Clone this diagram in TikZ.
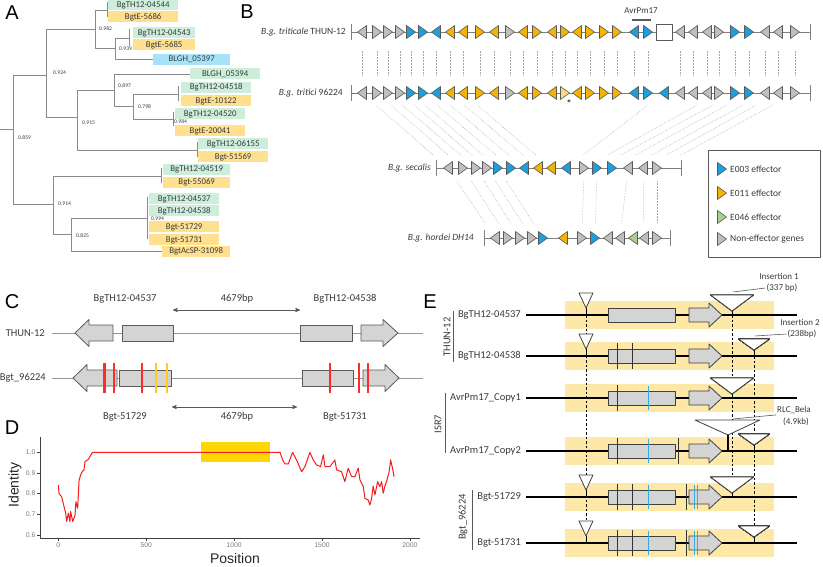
\documentclass[tikz,border=0pt]{standalone}
\usepackage{fontspec}
\setmainfont{Carlito}
\newfontfamily\arialfont{Liberation Sans}
\usetikzlibrary{arrows,calc}

\definecolor{lfgreen}{HTML}{CCEEDB}
\definecolor{lforange}{HTML}{FFE08E}
\definecolor{lfblue}{HTML}{A6E3F8}
\definecolor{brgray}{HTML}{8A8A8A}
\definecolor{rowgray}{HTML}{7F7F7F}
\definecolor{dkgray}{HTML}{595959}
\definecolor{txtgray}{HTML}{3A3A3A}
\definecolor{non}{HTML}{BFBFBF}
\definecolor{e3}{HTML}{1AA0DE}
\definecolor{e11}{HTML}{F4B400}
\definecolor{e11l}{HTML}{FBDA80}
\definecolor{e46}{HTML}{A9D08E}
\definecolor{bandcol}{HTML}{FDE8A7}
\definecolor{genefill}{HTML}{D4D4D4}
\definecolor{snpred}{HTML}{FF2A2A}
\definecolor{snpyel}{HTML}{FFC926}
\definecolor{snpblue}{HTML}{33ACE0}
\definecolor{idred}{HTML}{F21C1C}
\definecolor{idgold}{HTML}{FFD700}
\definecolor{tickgray}{HTML}{7A7A7A}

% gene triangle: name, x, y, direction (1 right, -1 left), colour
\newcommand\bgene[5]{\coordinate (#1) at (#2,#3);
  \filldraw[genetri,fill=#5,shift={(#1)}] ({-4.5*(#4)},-6.5) -- ({4.5*(#4)},0) -- ({-4.5*(#4)},6.5) -- cycle;}
% insertion: x, row y, half width, top, apex
\newcommand\ins[5]{\draw[insline] (#1,#2) -- (#1,{#2-#5});
  \filldraw[instri] ({#1-#3},{#2-#4}) -- ({#1+#3},{#2-#4}) -- (#1,{#2-#5}) -- cycle;}

\begin{document}
\begin{tikzpicture}[x=1pt,y=-1pt,>=stealth',line join=round,
  leaf/.style={anchor=west,inner xsep=4pt,inner ysep=0pt,minimum height=11pt,text width=#1,align=center,
               font=\fontsize{8.8}{10}\selectfont,text=txtgray},
  leaf/.default=62pt]
\tikzstyle{every node}=[inner sep=1pt]
\tikzstyle{letter}=[font=\arialfont\fontsize{20}{22}\selectfont]
\tikzstyle{branch}=[brgray,line width=0.9pt]
\tikzstyle{boot}=[anchor=west,font=\fontsize{5.6}{6}\selectfont,inner sep=0pt,text=txtgray]
\tikzstyle{sp}=[anchor=east,font=\fontsize{9.5}{11}\selectfont,text=txtgray]
\tikzstyle{genomeline}=[rowgray,line width=0.9pt]
\tikzstyle{genetri}=[draw=dkgray,line width=0.6pt]
\tikzstyle{syn}=[densely dotted,rowgray!70,line width=0.5pt]
\tikzstyle{clab}=[font=\fontsize{10.5}{12}\selectfont,text=txtgray]
\tikzstyle{bpspan}=[<->,dkgray,line width=0.7pt]
\tikzstyle{cline}=[rowgray!80,line width=0.8pt]
\tikzstyle{cgene}=[fill=genefill,draw=dkgray,line width=0.8pt]
\tikzstyle{snp}=[line width=1.3pt]
\tikzstyle{daxis}=[black!75,line width=0.8pt]
\tikzstyle{ticklab}=[font=\arialfont\fontsize{6.8}{8}\selectfont,text=tickgray]
\tikzstyle{eline}=[black,line width=1.1pt]
\tikzstyle{egene}=[fill=genefill,draw=black!75,line width=0.8pt]
\tikzstyle{elabel}=[anchor=east,font=\fontsize{10.5}{12}\selectfont,text=txtgray]
\tikzstyle{vdash}=[black,dashed,dash pattern=on 2.5pt off 2pt,line width=0.7pt]
\tikzstyle{insline}=[black,line width=0.9pt]
\tikzstyle{instri}=[fill=white,draw=black!75,line width=0.8pt]
\tikzstyle{leader}=[dkgray,line width=0.6pt]
\tikzstyle{grp}=[rotate=90,font=\fontsize{10.5}{12}\selectfont,text=txtgray]
\useasboundingbox (0,0) rectangle (823,567);

% ---- A
\node[letter] (lA) at (12,13) {A};
\coordinate (rt) at (0,129);
\coordinate (n0) at (13,129);
\coordinate (n1) at (46,75);
\coordinate (n11) at (95,29);
\coordinate (n111) at (115,48);
\coordinate (n12) at (77,117);
\coordinate (n121) at (114,90);
\coordinate (n1211) at (133,106);
\coordinate (n2) at (53,204);
\coordinate (n21) at (71,234);
\coordinate (n211) at (147,218);
\coordinate (ta) at (107,10);
\coordinate (tb) at (129,38);
\coordinate (tc) at (178,94);
\coordinate (td) at (173,119);
\coordinate (te) at (197,150);
\coordinate (tf) at (161,176);

\node[leaf,fill=lfgreen] (l04544) at (108,5) {BgTH12-04544};
\node[leaf,fill=lforange] (l5686) at (108,17) {BgtE-5686};
\node[leaf=54pt,fill=lfgreen] (l04543) at (133,33) {BgTH12-04543};
\node[leaf=54pt,fill=lforange] (l5685) at (133,45) {BgtE-5685};
\node[leaf=69pt,fill=lfblue] (l05397) at (153,59.5) {BLGH\_05397};
\node[leaf,fill=lfgreen] (l05394) at (190,74) {BLGH\_05394};
\node[leaf,fill=lfgreen] (l04518) at (181,87.5) {BgTH12-04518};
\node[leaf,fill=lforange] (l10122) at (181,101) {BgtE-10122};
\node[leaf,fill=lfgreen] (l04520) at (175,114) {BgTH12-04520};
\node[leaf,fill=lforange] (l20041) at (175,131) {BgtE-20041};
\node[leaf,fill=lfgreen] (l06155) at (198,144) {BgTH12-06155};
\node[leaf,fill=lforange] (l51569) at (198,157) {Bgt-51569};
\node[leaf=59pt,fill=lfgreen] (l04519) at (163,169.5) {BgTH12-04519};
\node[leaf=59pt,fill=lforange] (l55069) at (163,182.5) {Bgt-55069};
\node[leaf,fill=lfgreen] (l04537) at (149,199) {BgTH12-04537};
\node[leaf,fill=lfgreen] (l04538) at (149,211) {BgTH12-04538};
\node[leaf,fill=lforange] (l51729) at (149,227) {Bgt-51729};
\node[leaf,fill=lforange] (l51731) at (149,240) {Bgt-51731};
\node[leaf=60pt,fill=lforange] (l31098) at (162,251.5) {BgtAcSP-31098};

\draw[branch] (rt) -- (n0);
\draw[branch] (n0) |- (n1);
\draw[branch] (n0) |- (n2);
\draw[branch] (n1) |- (n11);
\draw[branch] (n1) |- (n12);
\draw[branch] (n11) |- (ta);
\draw[branch] (n11) |- (n111);
\draw[branch] (n111) |- (tb);
\draw[branch] (n111) |- (l05397.west);
\draw[branch] (n12) |- (n121);
\draw[branch] (n12) |- (te);
\draw[branch] (n121) |- (l05394.west);
\draw[branch] (n121) |- (n1211);
\draw[branch] (n1211) |- (tc);
\draw[branch] (n1211) |- (td);
\draw[branch] (n2) |- (tf);
\draw[branch] (n2) |- (n21);
\draw[branch] (n21) |- (n211);
\draw[branch] (n21) |- (l31098.west);
\foreach \t/\h in {ta/7.5,tb/8.5,tc/7.5,td/7,te/7.5,tf/7.5,n211/21}
  \draw[branch] ($(\t)+(0,-\h)$) -- ($(\t)+(0,\h)$);

\node[boot] (b1) at (99,29) {0.982};
\node[boot] (b2) at (119,49) {0.939};
\node[boot] (b3) at (53,73) {0.924};
\node[boot] (b4) at (118,86) {0.897};
\node[boot] (b5) at (138,107) {0.798};
\node[boot] (b6) at (174,122) {0.984};
\node[boot] (b7) at (82,123) {0.915};
\node[boot] (b8) at (18,138) {0.859};
\node[boot] (b9) at (58,204) {0.914};
\node[boot] (b10) at (151,218.5) {0.994};
\node[boot] (b11) at (76,236) {0.825};

% ---- B
\node[letter] (lB) at (247,12) {B};
\node[sp] (sp1) at (347,32) {\textit{B.g. triticale} THUN-12};
\node[sp] (sp2) at (344,93) {\textit{B.g. tritici} 96224};
\node[sp] (sp3) at (432,168) {\textit{B.g. secalis}};
\node[sp] (sp4) at (475,238) {\textit{B.g. hordei DH14}};
\foreach \r/\y/\a/\b in {r1/32/351/810, r2/93/351/810, r3/168/436/681, r4/238/484/670} {
  \coordinate (\r-s) at (\a,\y);
  \coordinate (\r-e) at (\b,\y);
  \draw[genomeline] (\r-s) -- (\r-e);
  \draw[genomeline] ($(\r-s)+(0,-8)$) -- ($(\r-s)+(0,8)$);
  \draw[genomeline] ($(\r-e)+(0,-8)$) -- ($(\r-e)+(0,8)$);
}
\node[draw=dkgray,fill=white,line width=0.8pt,minimum size=16pt,inner sep=0pt] (sq) at (664.5,32) {};
\node[font=\fontsize{9}{10}\selectfont,text=txtgray] (avr) at (641,11) {AvrPm17};
\draw[dkgray,line width=1.3pt] (632,20) -- (651,20);

\foreach \x/\d/\c [count=\i] in {362/-1/non,377/1/non,388/1/non,400/1/non,411/1/e3,423/1/e3,436/-1/e3,
    450/-1/e11,463/-1/e11,480/1/e11,494/-1/e11,510/1/non,523/-1/e11,537/1/e11,552/-1/e11,565/1/e11,
    577/-1/e11,590/1/e11,604/1/e11,617/1/e11,634/-1/e3,648/1/e3,680/-1/non,693/-1/non,707/-1/non,
    719/1/non,735/1/e3,749/1/e3,765/-1/non,778/-1/non,795/1/non}
  {\bgene{r1-\i}{\x}{32}{\d}{\c}}
\foreach \x/\d/\c [count=\i] in {362/-1/non,377/1/non,388/1/non,400/1/non,411/1/e3,423/1/e3,436/-1/e3,
    450/-1/e11,463/-1/e11,480/1/e11,494/-1/e11,510/1/non,523/-1/e11,537/1/e11,552/-1/e11,565/1/e11l,
    577/-1/e11,590/1/e11,604/1/e11,617/1/e11,634/-1/e3,648/1/e3,664/-1/e3,680/-1/non,693/-1/non,707/-1/non,
    719/1/non,735/1/e3,749/1/e3,765/-1/non,778/-1/non,795/1/non}
  {\bgene{r2-\i}{\x}{93}{\d}{\c}}
\foreach \x/\d/\c [count=\i] in {448/-1/non,463/1/non,476/1/non,487/1/non,498/1/e3,511/1/e3,524/-1/e3,
    538/-1/e11,551/-1/e11,566/-1/e3,584/1/non,597/1/e3,612/1/e3,628/-1/non,643/-1/non,657/1/non}
  {\bgene{r3-\i}{\x}{168}{\d}{\c}}
\foreach \x/\d/\c [count=\i] in {495/-1/non,508/1/non,520/1/non,532/1/non,543/1/e3,563/-1/e11,582/1/non,
    595/1/e3,608/-1/non,620/-1/non,633/-1/e46,644/-1/non,657/1/non}
  {\bgene{r4-\i}{\x}{238}{\d}{\c}}
\node[font=\fontsize{11}{12}\selectfont] (ast) at (569,104) {*};

\foreach \i in {1,...,22}
  \draw[syn] ($(r1-\i)!0.31!(r2-\i)$) -- ($(r1-\i)!0.72!(r2-\i)$);
\foreach \i in {23,...,31} {
  \pgfmathtruncatemacro\j{\i+1}
  \draw[syn] ($(r1-\i)!0.31!(r2-\j)$) -- ($(r1-\i)!0.72!(r2-\j)$);
}
\foreach \i/\j in {1/1,2/2,3/3,4/4,5/5,6/6,7/7,8/8,9/9,23/10,27/11,28/12,29/13,30/14,31/15,32/16}
  \draw[syn] ($(r2-\i)!0.16!(r3-\j)$) -- ($(r2-\i)!0.83!(r3-\j)$);
\foreach \i/\j in {1/1,2/2,3/3,4/4,5/5,11/7,12/8,14/10,15/12,16/13}
  \draw[syn] ($(r3-\i)!0.19!(r4-\j)$) -- ($(r3-\i)!0.79!(r4-\j)$);

\node[draw=dkgray,line width=0.8pt,minimum width=112pt,minimum height=107pt,inner sep=0pt] (legend) at (764,203.5) {};
\foreach \c/\t/\y [count=\i] in {e3/E003 effector/169,e11/E011 effector/193,e46/E046 effector/217,non/Non-effector genes/239} {
  \bgene{lg\i}{722}{\y}{1}{\c}
  \node[sp,anchor=west] (lt\i) at (729,\y) {\t};
}

% ---- C
\node[letter] (lC) at (12,302) {C};
\node[clab] (c537) at (125,299) {BgTH12-04537};
\node[clab] (cbp1) at (237,299) {4679bp};
\node[clab] (c538) at (345,299) {BgTH12-04538};
\coordinate (cs1) at (173,310);
\coordinate (ce1) at (300,310);
\draw[bpspan] (cs1) -- (ce1);
\node[clab,anchor=east] (cthun) at (46,333) {THUN-12};
\node[clab,anchor=east] (cbgt) at (47,378) {Bgt\_96224};
\coordinate (c1s) at (52,333);
\coordinate (c1e) at (423,333);
\coordinate (c2s) at (52,378);
\coordinate (c2e) at (423,378);
\draw[cline] (c1s) -- (c1e);
\draw[cline] (c2s) -- (c2e);
\filldraw[cgene] (75,333) -- (89,319.5) -- (89,325) -- (113,325) -- (113,341) -- (89,341) -- (89,346.5) -- cycle;
\filldraw[cgene] (122,325) rectangle (173,341);
\filldraw[cgene] (300,325) rectangle (352,341);
\filldraw[cgene] (361,325) -- (383,325) -- (383,319.5) -- (398,333) -- (383,346.5) -- (383,341) -- (361,341) -- cycle;
\filldraw[cgene] (73,378) -- (87,364.5) -- (87,370) -- (117,370) -- (117,386) -- (87,386) -- (87,391.5) -- cycle;
\filldraw[cgene] (119,370) rectangle (171,386);
\filldraw[cgene] (302,370) rectangle (353,386);
\filldraw[cgene] (363,370) -- (385,370) -- (385,364.5) -- (399,378) -- (385,391.5) -- (385,386) -- (363,386) -- cycle;
\foreach \x/\w in {104/3,114/1.3,142/1.3,330/1.3,359/1.3,368/2.6}
  \draw[snp,snpred,line width=\w pt] (\x,363) -- (\x,393);
\foreach \x in {156,167}
  \draw[snp,snpyel] (\x,363) -- (\x,393);
\coordinate (cs2) at (172,407);
\coordinate (ce2) at (297,407);
\draw[bpspan] (cs2) -- (ce2);
\node[clab] (c729) at (125,417) {Bgt-51729};
\node[clab] (cbp2) at (237,417) {4679bp};
\node[clab] (c731) at (345,417) {Bgt-51731};

% ---- D
\node[letter] (lD) at (12,428) {D};
\node[rotate=90,font=\arialfont\fontsize{14}{16}\selectfont,text=black!85] (ylab) at (15,485) {Identity};
\node[anchor=north,font=\arialfont\fontsize{14}{16}\selectfont,text=black!85] (xlab) at (235,552) {Position};
\begin{scope}[shift={(58.33,659)},x=0.1758pt,y=206.7pt]
  \fill[idgold] (811,0.953) rectangle (1204,1.05);
  \coordinate (dtop) at (-104,1.073);
  \coordinate (dorig) at (-104,0.584);
  \coordinate (dright) at (2057,0.584);
  \draw[daxis] (dtop) -- (dorig) -- (dright);
  \foreach \v in {0.6,0.7,0.8,0.9,1.0} {
    \draw[daxis] (-104,\v) -- (-120,\v);
    \node[ticklab,anchor=east] at (-124,\v) {\v};
  }
  \foreach \p in {0,500,1000,1500,2000} {
    \draw[daxis] (\p,0.584) -- (\p,0.571);
    \node[ticklab,anchor=north] at (\p,0.566) {\p};
  }
  \draw[idred,line width=1pt] plot coordinates {(0,0.842) (4,0.80) (19,0.785) (28,0.753) (42,0.705)
    (47,0.665) (57,0.705) (66,0.665) (70,0.713) (82,0.665) (95,0.697) (100,0.761) (110,0.729)
    (118,0.866) (127,0.89) (136,0.906) (146,0.915) (152,0.955) (171,0.966) (190,0.995) (199,1.0)
    (1261,1.0) (1276,0.963) (1289,0.944) (1308,0.944) (1333,1.0) (1355,0.963) (1384,0.906)
    (1403,0.931) (1431,1.0) (1450,0.963) (1469,0.939) (1492,0.931) (1507,0.987) (1517,0.931)
    (1545,0.931) (1573,0.963) (1583,0.915) (1611,0.906) (1630,0.858) (1649,0.923) (1668,0.882)
    (1687,0.882) (1706,0.923) (1716,0.866) (1735,0.834) (1744,0.777) (1763,0.769) (1772,0.745)
    (1782,0.777) (1791,0.837) (1801,0.794) (1816,0.858) (1829,0.834) (1839,0.858) (1848,0.802)
    (1858,0.837) (1867,0.858) (1882,0.906) (1890,0.963) (1901,0.923) (1910,0.882)};
\end{scope}

% ---- E
\node[letter] (lE) at (430,302) {E};
\foreach \y/\lab [count=\i] in {315/BgTH12-04537,356/BgTH12-04538,398/AvrPm17\_Copy1,
    451/AvrPm17\_Copy2,497/Bgt-51729,543/Bgt-51731} {
  \begin{scope}[shift={(0,\y)}]
    \fill[bandcol] (565,-14) rectangle (774,14);
    \coordinate (e\i-s) at (526,0);
    \coordinate (e\i-e) at (797,0);
    \draw[eline] (e\i-s) -- (e\i-e);
    \filldraw[egene] (608,-7) rectangle (675,7);
    \filldraw[egene] (689,-7) -- (709,-7) -- (709,-12) -- (722,0) -- (709,12) -- (709,7) -- (689,7) -- cycle;
    \node[elabel] (el\i) at (522,0) {\lab};
  \end{scope}
}
\draw[vdash] (586,315) -- (586,520);
\draw[vdash] (732,315) -- (732,476);
\draw[vdash] (754,356) -- (754,527);
% variants
\foreach \x/\y in {617/356,632/356,617/398,617/451,678/451,617/497,632/497,686/497,617/543,632/543,686/543}
  \draw[black!80,line width=0.8pt] (\x,\y-13) -- (\x,\y+13);
\foreach \x/\y in {648/398,648/451,648/497,694/497,697/497,648/543,694/543,697/543}
  \draw[snpblue,line width=0.8pt] (\x,\y-12) -- (\x,\y+12);
% insertions
\foreach \y in {315,356,497,543}
  \ins{586}{\y}{7}{22}{7}
\foreach \y in {315,398,497}
  \ins{732}{\y}{21.5}{20}{4}
\foreach \y in {356,451,543}
  \ins{754}{\y}{15.5}{17}{6}
\draw[black,line width=1.6pt] (728,451) -- (728,435);
\filldraw[instri] (695,420) -- (760,420) -- (728,435) -- cycle;

\node[font=\fontsize{9}{10}\selectfont,text=txtgray] (ins1a) at (779,276) {Insertion 1};
\node[font=\fontsize{9}{10}\selectfont,text=txtgray] (ins1b) at (782,288) {(337 bp)};
\coordinate (ld1) at (733,292);
\draw[leader] (ld1) -- (ins1b.west);
\node[font=\fontsize{9}{10}\selectfont,text=txtgray] (ins2a) at (800,322) {Insertion 2};
\node[font=\fontsize{9}{10}\selectfont,text=txtgray] (ins2b) at (802,334) {(238bp)};
\coordinate (ld2) at (755,336);
\draw[leader] (ld2) -- (ins2b.west);
\node[font=\fontsize{9}{10}\selectfont,text=txtgray] (rlca) at (794,410) {RLC\_Bela};
\node[font=\fontsize{9}{10}\selectfont,text=txtgray] (rlcb) at (796,422) {(4.9kb)};
\coordinate (ld3) at (733,419);
\draw[leader] (ld3) -- (rlca.south west);

\node[grp] (gthun) at (447,337) {THUN-12};
\draw[dkgray,line width=0.8pt] (453,311) -- (453,362);
\node[grp] (gisr) at (438,424) {ISR7};
\draw[dkgray,line width=0.8pt] (445,393) -- (445,453);
\node[grp] (gbgt) at (463,517) {Bgt\_96224};
\draw[dkgray,line width=0.8pt] (472,490) -- (472,550);
\end{tikzpicture}
\end{document}
